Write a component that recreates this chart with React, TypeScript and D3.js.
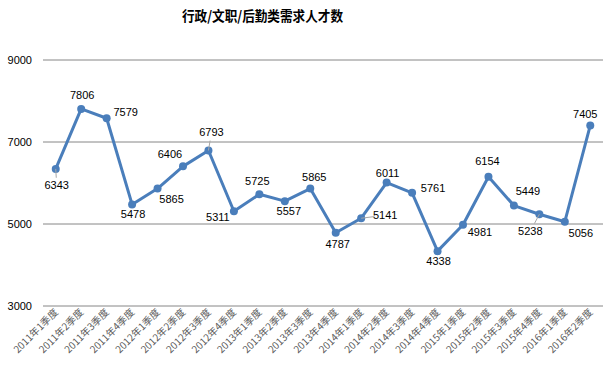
import React from "react";
import * as d3 from "d3";

const categories = [
  "2011年1季度", "2011年2季度", "2011年3季度", "2011年4季度",
  "2012年1季度", "2012年2季度", "2012年3季度", "2012年4季度",
  "2013年1季度", "2013年2季度", "2013年3季度", "2013年4季度",
  "2014年1季度", "2014年2季度", "2014年3季度", "2014年4季度",
  "2015年1季度", "2015年2季度", "2015年3季度", "2015年4季度",
  "2016年1季度", "2016年2季度",
];
const values = [
  6343, 7806, 7579, 5478, 5865, 6406, 6793, 5311, 5725, 5557, 5865,
  4787, 5141, 6011, 5761, 4338, 4981, 6154, 5449, 5238, 5056, 7405,
];
const yTicks = [3000, 5000, 7000, 9000];
const title = "行政/文职/后勤类需求人才数";

// label placement offsets (dx, dy from point to label centre) and leader flags
const labelOffsets: [number, number, boolean][] = [
  [1, 16, true], [1, -14, false], [19, -6, false], [1, 10, false],
  [14, 10, false], [-13, -12, false], [3, -18, true], [-16, 6, false],
  [-2, -13, false], [4, 10, false], [4, -12, false], [2, 11, false],
  [24, -3, true], [1, -10, false], [21, -5, false], [1, 10, false],
  [17, 7, false], [-1, -16, false], [14, -15, false], [-9, 17, true],
  [16, 11, false], [-5, -11, false],
];

const W = 611;
const H = 376;
const left = 43;
const right = 603;
const top = 60;
const bottom = 306;

export default function App() {
  const x = d3.scaleBand<string>().domain(categories).range([left, right]);
  const y = d3.scaleLinear().domain([3000, 9000]).range([bottom, top]);
  const cx = (c: string) => (x(c) as number) + x.bandwidth() / 2;
  const line = d3
    .line<number>()
    .x((_, i) => cx(categories[i]))
    .y((d) => y(d));

  return (
    <svg
      width={W}
      height={H}
      style={{ position: "absolute", left: 0, top: 0, background: "#fff" }}
      fontFamily="'Liberation Sans', Arial, 'Noto Sans CJK SC', sans-serif"
    >
      <rect x={0} y={0} width={W} height={H} fill="#fff" />
      <text
        x={182}
        y={21}
        fontSize={14}
        fontWeight="bold"
        fontFamily="'Noto Sans CJK SC', sans-serif"
        fill="#000"
        textLength={161}
        lengthAdjust="spacingAndGlyphs"
      >
        {title}
      </text>
      {yTicks.map((t) => (
        <g key={t}>
          <line x1={left} x2={right} y1={y(t)} y2={y(t)} stroke="#868686" strokeWidth={1} />
          <text x={32} y={y(t) + 4} textAnchor="end" fontSize={11} fill="#000">
            {t}
          </text>
        </g>
      ))}
      {categories.map((c) => (
        <text
          key={c}
          transform={`translate(${cx(c) + 3},${bottom + 7}) rotate(-45)`}
          textAnchor="end"
          fontSize={10}
          fill="#595959"
          fontFamily="'Noto Sans CJK SC', sans-serif"
        >
          {c}
        </text>
      ))}
      <path d={line(values) || ""} fill="none" stroke="#4a7ebb" strokeWidth={3} strokeLinejoin="round" />
      {values.map((v, i) => (
        <circle key={i} cx={cx(categories[i])} cy={y(v)} r={4} fill="#4a7ebb" />
      ))}
      {values.map((v, i) => {
        const px = cx(categories[i]);
        const py = y(v);
        const [dx, dy, leader] = labelOffsets[i];
        const lx = px + dx;
        const ly = py + dy;
        return (
          <g key={"l" + i}>
            {leader && (
              <line
                x1={px}
                y1={py}
                x2={px + dx * 0.55}
                y2={py + dy * 0.55}
                stroke="#a6a6a6"
                strokeWidth={1}
              />
            )}
            <text x={lx} y={ly + 4} textAnchor="middle" fontSize={11} fill="#000">
              {v}
            </text>
          </g>
        );
      })}
    </svg>
  );
}
